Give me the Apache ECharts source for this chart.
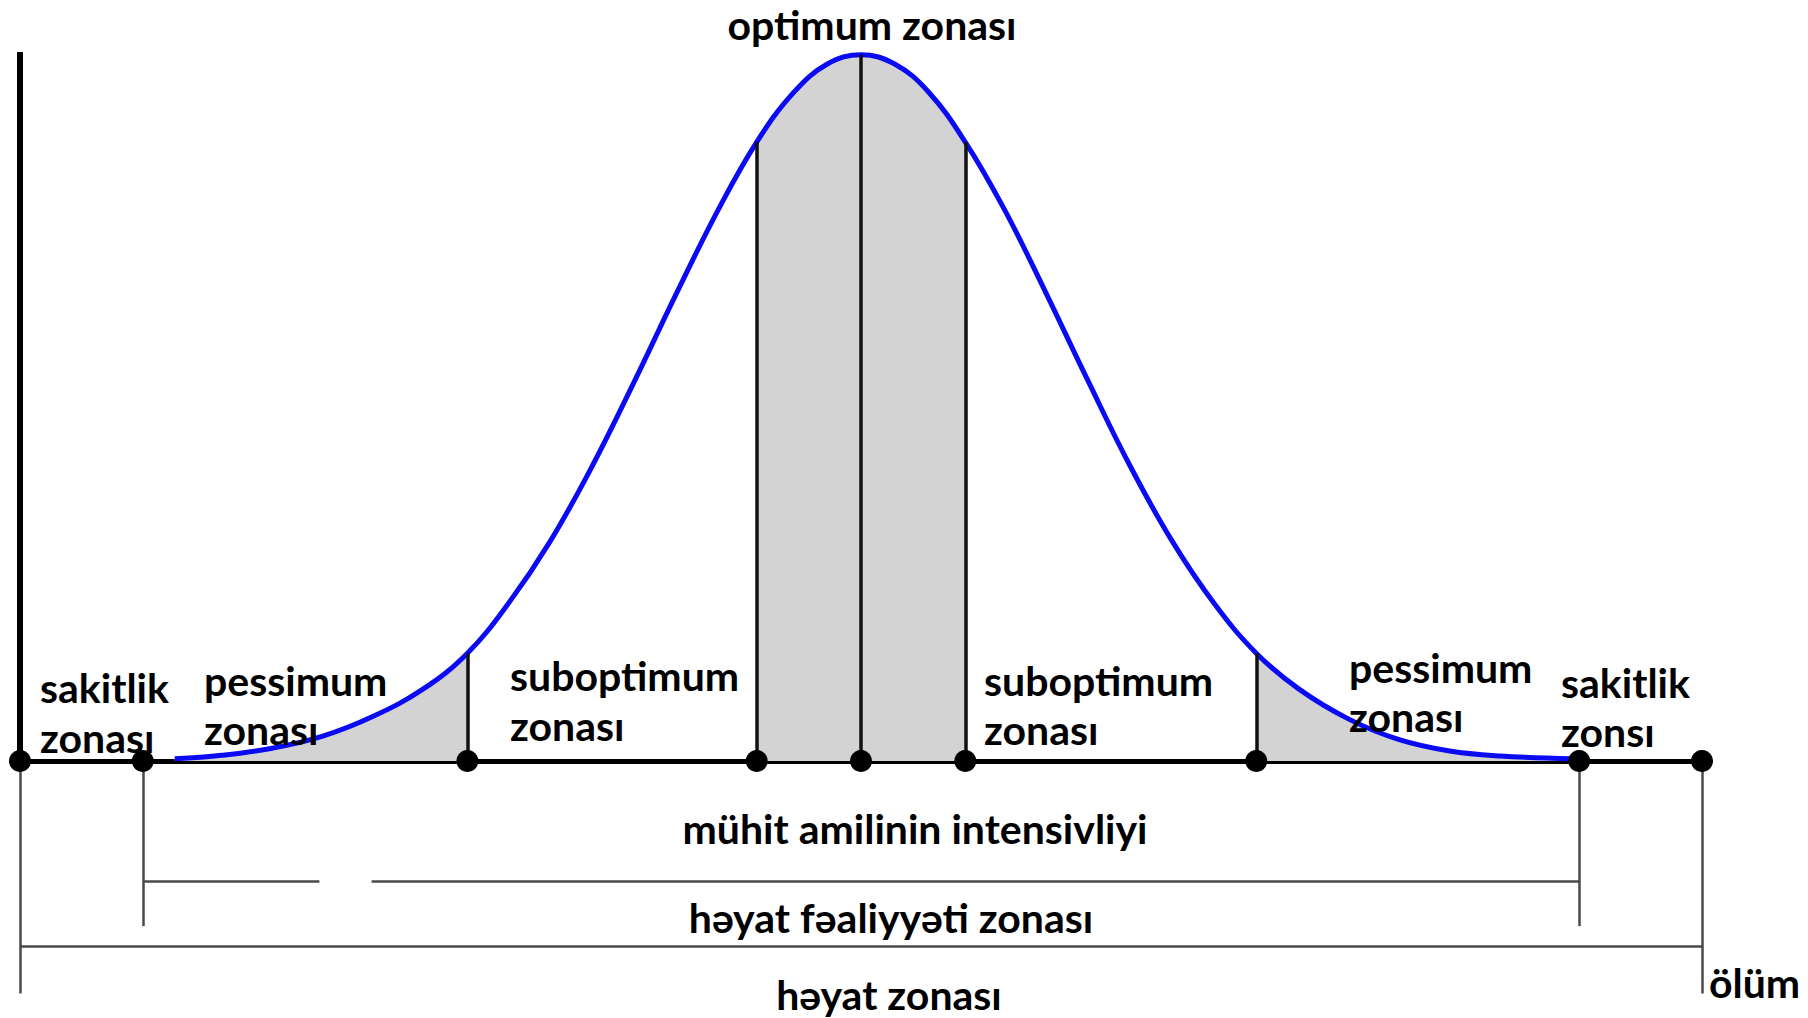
<!DOCTYPE html>
<html lang="az">
<head>
<meta charset="UTF-8" />
<title>Ekoloji zonalar</title>
<script src="https://cdn.jsdelivr.net/npm/echarts@6/dist/echarts.min.js"></script>
<style>
  html, body { margin: 0; padding: 0; background: #fff; }
  #main { width: 1808px; height: 1018px; }
</style>
</head>
<body>
<div id="main"></div>
<script>
// intensivlik oxu 0..100, canlılıq 0..100 (zirvə)
var zoneX = [0, 7.3, 26.6, 43.8, 50, 56.2, 73.5, 92.7, 100];   // oxdakı nöqtələr
var dividerX = [26.6, 43.8, 50, 56.2, 73.5];                   // şaquli xətlər
var curveX = [9.2, 12, 15, 18, 21, 24, 26.6, 29, 31.5, 34, 36.5, 39, 41.5, 43.8, 46, 48, 50,
              52, 54, 56.2, 58.5, 61, 63.5, 66, 68.5, 71, 73.5, 76, 79, 82, 85, 88, 92.3];
var curveY = [0.3, 0.8, 1.8, 3.5, 6.3, 10.2, 15.2, 22.1, 30.9, 41.5, 53.4, 65.8, 77.7, 87.3, 94.3, 98.3, 99.6,
              98.3, 94.4, 87.3, 77.9, 66.0, 53.6, 41.6, 31.0, 22.2, 15.2, 10.2, 5.9, 3.0, 1.4, 0.7, 0.3];
var shadeRanges = [[9.2, 26.6], [43.8, 56.2], [73.5, 92.3]];   // boz sahələr
var innerBracket = [7.3, 92.7];    // həyat fəaliyyəti zonası
var outerBracket = [0, 100];       // həyat zonası
var innerGap = [17.8, 20.9];
var innerLevel = -16.9, outerLevel = -26.2, innerTickEnd = -23.3, outerTickEnd = -32.8;

var curve = curveX.map(function (x, i) { return [x, curveY[i]]; });
function valueAt(x) { return curveY[curveX.indexOf(x)]; }

var chart = echarts.init(document.getElementById('main'), null, { renderer: 'svg' });

var series = [];
shadeRanges.forEach(function (r) {
  series.push({
    type: 'line',
    smooth: 0.4,
    showSymbol: false,
    silent: true,
    z: 1,
    lineStyle: { width: 0 },
    areaStyle: { color: '#d3d3d3', opacity: 1 },
    data: curve.filter(function (p) { return p[0] >= r[0] && p[0] <= r[1]; })
  });
});

var seg = function (a, b) { return [{ coord: a }, { coord: b }]; };

// şaquli xətlər
series.push({
  type: 'line', data: [], z: 2,
  markLine: {
    silent: true, symbol: 'none', animation: false, label: { show: false },
    lineStyle: { color: '#111', width: 3.5, type: 'solid', opacity: 1 },
    data: dividerX.map(function (x) { return seg([x, 0], [x, valueAt(x)]); })
  }
});

// sol qalın ox
series.push({
  type: 'line', data: [], z: 3,
  markLine: {
    silent: true, symbol: 'none', animation: false, label: { show: false },
    lineStyle: { color: '#000', width: 6, type: 'solid', opacity: 1 },
    data: [seg([0, 0], [0, 100])]
  }
});

// aşağıdakı mötərizələr
series.push({
  type: 'line', data: [], z: 2,
  markLine: {
    silent: true, symbol: 'none', animation: false, label: { show: false },
    lineStyle: { color: '#4a4a4a', width: 2.5, type: 'solid', opacity: 1 },
    data: [
      seg([innerBracket[0], 0], [innerBracket[0], innerTickEnd]),
      seg([innerBracket[1], 0], [innerBracket[1], innerTickEnd]),
      seg([outerBracket[0], 0], [outerBracket[0], outerTickEnd]),
      seg([outerBracket[1], 0], [outerBracket[1], outerTickEnd]),
      seg([innerBracket[0], innerLevel], [innerGap[0], innerLevel]),
      seg([innerGap[1], innerLevel], [innerBracket[1], innerLevel]),
      seg([outerBracket[0], outerLevel], [outerBracket[1], outerLevel])
    ]
  }
});

// mavi əyri
series.push({
  type: 'line',
  smooth: 0.4,
  showSymbol: false,
  silent: true,
  z: 4,
  lineStyle: { color: '#0a0af5', width: 5 },
  data: curve
});

// nöqtələr
series.push({
  type: 'scatter',
  symbolSize: 22,
  silent: true,
  z: 5,
  itemStyle: { color: '#000', opacity: 1 },
  data: zoneX.map(function (x) { return [x, 0]; })
});

var font = 'bold 41px Lato';
function txt(text, x, y, align) {
  return {
    type: 'text', z: 10,
    style: { text: text, x: x, y: y, font: font, fill: '#000',
             textAlign: align || 'left', textVerticalAlign: 'middle' }
  };
}

chart.setOption({
  animation: false,
  backgroundColor: '#fff',
  grid: { left: 20, right: 106, top: 52, bottom: 16 },
  xAxis: {
    type: 'value', min: 0, max: 100,
    axisLine: { show: true, onZero: true, lineStyle: { color: '#000', width: 5 } },
    axisTick: { show: false }, axisLabel: { show: false }, splitLine: { show: false }
  },
  yAxis: {
    type: 'value', min: -34, max: 100,
    axisLine: { show: false }, axisTick: { show: false },
    axisLabel: { show: false }, splitLine: { show: false }
  },
  series: series,
  graphic: [
    txt('optimum zonası', 872, 24, 'center'),
    txt('sakitlik', 40, 687), txt('zonası', 40, 737),
    txt('pessimum', 204, 680), txt('zonası', 204, 729),
    txt('suboptimum', 510, 675), txt('zonası', 510, 725),
    txt('suboptimum', 984, 680), txt('zonası', 984, 729),
    txt('pessimum', 1349, 667), txt('zonası', 1349, 716),
    txt('sakitlik', 1561, 682), txt('zonsı', 1561, 731),
    txt('mühit amilinin intensivliyi', 915, 828, 'center'),
    txt('həyat fəaliyyəti zonası', 891, 917, 'center'),
    txt('həyat zonası', 889, 994, 'center'),
    txt('ölüm', 1709, 982)
  ]
});
</script>
</body>
</html>
